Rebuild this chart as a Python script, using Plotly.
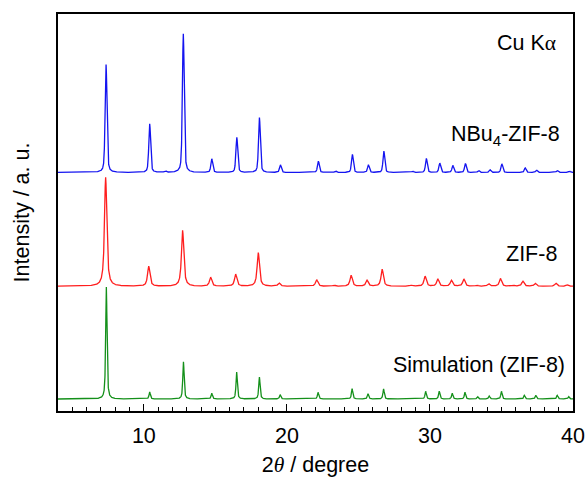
import numpy as np
import plotly.graph_objects as go

# ---- data (2theta in degree, heights in arbitrary units) ----
blue_pos = [7.36, 10.41, 11.5, 12.76, 14.75, 16.5, 18.08, 19.55, 22.2, 23.4, 24.58, 25.7,
            26.78, 28.8, 29.75, 30.69, 31.6, 32.48, 33.4, 34.2, 35.03, 36.66, 37.45, 38.9, 39.76]
blue_h = [108, 48.6, 1.5, 138.6, 13.6, 35, 55, 7.6, 11.3, 1.5, 18, 7.6,
          21.3, 1.2, 14, 9.3, 7, 9, 2, 2.6, 8.6, 4.6, 2.3, 2, 1.2]

red_pos = [7.33, 10.34, 12.71, 14.67, 16.42, 18.0, 19.45, 22.08, 23.3, 24.49, 25.6, 26.66,
           28.7, 29.66, 30.55, 31.5, 32.37, 33.3, 34.1, 34.93, 35.8, 36.5, 37.36, 38.8, 39.6]
red_h = [109, 20, 56, 9, 12, 33.6, 3.3, 6.5, 1, 11, 6, 17,
         1, 10, 7.3, 6, 7.3, 1, 2.7, 7.7, 1, 5, 3, 3, 1.5]

green_pos = [7.38, 10.41, 12.77, 14.75, 16.49, 18.08, 19.53, 22.18, 24.56, 25.67, 26.76,
             29.7, 30.65, 31.56, 32.45, 33.33, 34.14, 35.0, 36.6, 37.4, 38.9, 39.7]
green_h = [112, 7, 37.3, 5.7, 27, 22, 4.3, 6.7, 10.3, 5.3, 10,
           7.7, 7.7, 5.7, 6.7, 2.3, 3, 7.7, 3.7, 3.7, 3.7, 2.3]

labels = ["NBu<sub>4</sub>-ZIF-8", "ZIF-8", "Simulation (ZIF-8)"]
x_ticks = [10, 20, 30, 40]

# ---- profile rendering from the peak list ----
grid = np.arange(4.0, 40.0001, 0.005)


def pattern(pos, h, fwhm, eta, base):
    y = np.full_like(grid, base, dtype=float)
    for p, a in zip(pos, h):
        d = (grid - p) / (fwhm / 2.0)
        lor = 1.0 / (1.0 + d ** 2)
        gau = np.exp(-np.log(2.0) * d ** 2)
        y += a * (eta * lor + (1 - eta) * gau)
    return y


traces = [
    (blue_pos, blue_h, 0.15, 0.45, 238.5, "#1414f0"),
    (red_pos, red_h, 0.19, 0.85, 124.7, "#ff1e1e"),
    (green_pos, green_h, 0.11, 0.7, 12.0, "#14901a"),
]

fig = go.Figure()
for pos, h, fw, eta, base, col in traces:
    fig.add_trace(go.Scatter(x=grid, y=pattern(pos, h, fw, eta, base), mode="lines",
                             line=dict(color=col, width=1.3), showlegend=False,
                             hoverinfo="skip"))

font = dict(family="Liberation Sans, Arial, sans-serif", size=21.5, color="black")
ann = [
    ("Cu K<span style='font-family:Liberation Serif'>α</span>", 38.95, 368),
    (labels[0], 39.2, 276),
    (labels[1], 39.04, 157),
    (labels[2], 39.55, 46),
]
for t, x, y in ann:
    fig.add_annotation(text=t, x=x, y=y, xref="x", yref="y", xanchor="right",
                       yanchor="middle", showarrow=False, font=font)

fig.update_layout(
    width=585, height=477,
    margin=dict(l=58, r=12, t=14, b=66),
    paper_bgcolor="white", plot_bgcolor="white",
    font=font,
)
fig.update_xaxes(
    range=[4, 40], tickvals=x_ticks, ticks="inside", ticklen=7, tickwidth=1.2,
    tickcolor="black", showline=True, linecolor="black", linewidth=1.5, mirror=True,
    showgrid=False, zeroline=False, tickfont=font, ticklabelstandoff=4, automargin=False,
    minor=dict(dtick=1, tick0=0, ticks="inside", ticklen=4, tickwidth=1, tickcolor="black",
               showgrid=False),
    title=dict(text="2<span style='font-family:Liberation Serif'><i>θ</i></span> / degree",
               font=font, standoff=11),
)
fig.update_yaxes(
    range=[0, 397], showticklabels=False, ticks="", showline=True, linecolor="black",
    linewidth=1.5, mirror=True, showgrid=False, zeroline=False, automargin=False,
    title=dict(text="Intensity / a. u.", font=font, standoff=21),
)

fig.write_html("out.html", config={"displayModeBar": False},
               post_script="document.body.style.margin='0px';")
